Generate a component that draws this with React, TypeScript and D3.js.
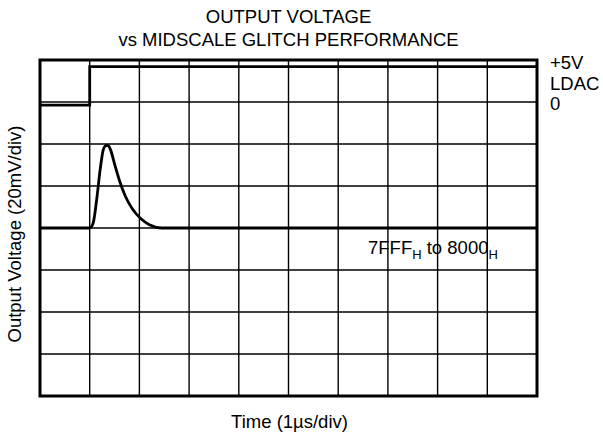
import { useEffect, useRef } from "react";
import * as d3 from "d3";

// chart size (matches the reference picture)
const width = 603;
const height = 438;

// plot frame
const margin = { top: 60, right: 66, bottom: 42, left: 40 };

// axis setup: 10 divisions of 1us, 8 divisions of 20mV
const timeDomain = [0, 10];
const voltDomain = [-80, 80];
const voltStep = 20;

// LDAC control trace (time in us, level in V)
const ldacTime = [0, 1, 1, 10];
const ldacLevel = [0, 0, 5, 5];
// where the LDAC trace sits on the screen, in mV-equivalent units
const ldacScreen = [58.5, 76.8];

// glitch trace: output voltage (mV) around midscale, 7FFFh -> 8000h
const glitchTime = [0, 1.0, 1.07, 1.14, 1.21, 1.27, 1.31, 1.36, 1.42, 1.5, 1.6, 1.72, 1.86, 2.02, 2.2, 2.45, 10];
const glitchMv = [0, 0, 2.4, 13.5, 27.8, 37, 39, 39.4, 37.2, 30.5, 22.5, 15, 9, 4.6, 1.6, 0, 0];

const rightLabels = ["+5V", "LDAC", "0"];

const font = "'Liberation Sans', Arial, sans-serif";
const fontSize = 18.5;

const drawChart = (node: SVGSVGElement) => {
    const svg = d3.select(node);
    svg.selectAll("*").remove();

    const x = d3.scaleLinear()
        .domain(timeDomain)
        .range([margin.left, width - margin.right]);

    const y = d3.scaleLinear()
        .domain(voltDomain)
        .range([height - margin.bottom, margin.top]);

    const ldacY = d3.scaleLinear()
        .domain([0, 5])
        .range([y(ldacScreen[0]), y(ldacScreen[1])]);

    // grid
    const grid = svg.append("g")
        .attr("stroke", "#000")
        .attr("stroke-width", 1.4);

    grid.selectAll()
        .data(d3.range(timeDomain[0] + 1, timeDomain[1]))
        .join("line")
            .attr("x1", d => x(d))
            .attr("x2", d => x(d))
            .attr("y1", y(voltDomain[0]))
            .attr("y2", y(voltDomain[1]));

    grid.selectAll()
        .data(d3.range(voltDomain[0] + voltStep, voltDomain[1], voltStep))
        .join("line")
            .attr("x1", x(timeDomain[0]))
            .attr("x2", x(timeDomain[1]))
            .attr("y1", d => y(d))
            .attr("y2", d => y(d));

    // traces
    const ldacLine = d3.line<number>()
        .x(i => x(ldacTime[i]))
        .y(i => ldacY(ldacLevel[i]));

    svg.append("path")
        .attr("d", ldacLine(d3.range(ldacTime.length)))
        .attr("fill", "none")
        .attr("stroke", "#000")
        .attr("stroke-width", 2.8);

    const glitchLine = d3.line<number>()
        .x(i => x(glitchTime[i]))
        .y(i => y(glitchMv[i]))
        .curve(d3.curveMonotoneX);

    svg.append("path")
        .attr("d", glitchLine(d3.range(glitchTime.length)))
        .attr("fill", "none")
        .attr("stroke", "#000")
        .attr("stroke-width", 2.8);

    // frame
    svg.append("rect")
        .attr("x", x(timeDomain[0]))
        .attr("y", y(voltDomain[1]))
        .attr("width", x(timeDomain[1]) - x(timeDomain[0]))
        .attr("height", y(voltDomain[0]) - y(voltDomain[1]))
        .attr("fill", "none")
        .attr("stroke", "#000")
        .attr("stroke-width", 3);

    const text = svg.append("g")
        .attr("font-family", font)
        .attr("font-size", fontSize)
        .attr("fill", "#000");

    // title
    const midX = (x(timeDomain[0]) + x(timeDomain[1])) / 2;
    text.append("text")
        .attr("x", midX)
        .attr("y", 23)
        .attr("text-anchor", "middle")
        .text("OUTPUT VOLTAGE");
    text.append("text")
        .attr("x", midX)
        .attr("y", 46)
        .attr("text-anchor", "middle")
        .text("vs MIDSCALE GLITCH PERFORMANCE");

    // right side labels for the LDAC trace
    text.selectAll(".rl")
        .data(rightLabels)
        .join("text")
            .attr("x", x(timeDomain[1]) + 13)
            .attr("y", (d, i) => 69 + i * 20.5)
            .text(d => d);

    // code transition label
    const code = text.append("text")
        .attr("x", 368)
        .attr("y", 254);
    code.append("tspan").text("7FFF");
    code.append("tspan").attr("dy", 5).attr("font-size", 13).text("H");
    code.append("tspan").attr("dy", -5).text(" to 8000");
    code.append("tspan").attr("dy", 5).attr("font-size", 13).text("H");

    // axis labels
    text.append("text")
        .attr("x", midX + 1)
        .attr("y", 428)
        .attr("text-anchor", "middle")
        .text("Time (1\u00b5s/div)");

    text.append("text")
        .attr("transform", `translate(21,234) rotate(-90)`)
        .attr("text-anchor", "middle")
        .text("Output Voltage (20mV/div)");
};

export default function App() {
    const ref = useRef<SVGSVGElement>(null);

    useEffect(() => {
        if (ref.current) drawChart(ref.current);
    }, []);

    return (
        <div style={{ position: "absolute", left: 0, top: 0 }}>
            <svg ref={ref} width={width} height={height} style={{ display: "block", background: "#fff" }} />
        </div>
    );
}
